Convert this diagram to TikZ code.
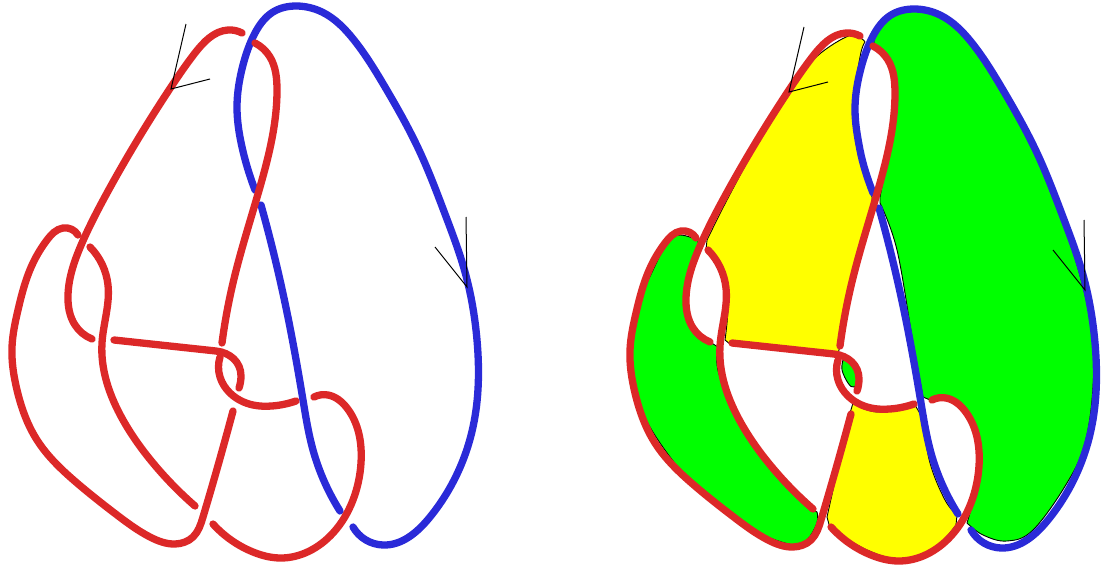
\documentclass[tikz,border=0pt]{standalone}
\usetikzlibrary{hobby}
\definecolor{kred}{HTML}{DC2828}
\definecolor{kblue}{HTML}{2A2AD8}
\definecolor{kgreen}{HTML}{00FF00}
\definecolor{kyellow}{HTML}{FFFF00}
\newcommand{\kw}{7.3pt}
\tikzset{
  redplain/.style={draw=kred,line width=\kw,line cap=round,line join=round},
  redstrand/.style={redplain,use Hobby shortcut},
  bluestrand/.style={use Hobby shortcut,draw=kblue,line width=\kw,line cap=round,line join=round},
  arrowline/.style={draw=black,line width=1pt,line join=miter},
  region/.style={draw=black,line width=0.9pt,line join=round},
  sm/.style={smooth,tension=0.62}
}
\newcommand{\knotdrawing}{%
  % blue strands
  \draw[bluestrand] (255,190) .. (242,147) .. (237,107) .. (243,65) .. (255,33) .. (273,12) .. (297,6) .. (322,12) .. (354,40) .. (385,87) .. (419,150) .. (445,214) .. (465,272) .. (477,340) .. (473,427) .. (430,517) .. (383,545) .. (353,527);
  \draw[bluestrand] (261,205) .. (280,280) .. (293,343) .. (303,400) .. (313,450) .. (340,511);
  % red strands
  \draw[redstrand] (242,33) .. (228,30) .. (195,53) .. (171,87) .. (107,193) .. (82,243) .. (68,295) .. (75,325) .. (92,339);
  \draw[redstrand] (78,235) .. (63,228) .. (47,240) .. (33,263) .. (18,310) .. (12,347) .. (17,390) .. (37,440) .. (77,483) .. (117,515) .. (150,537) .. (175,544) .. (193,537) .. (203,517) .. (233,411);
  \draw[redstrand] (90,247) .. (108,285) .. (102,343) .. (123,420) .. (153,463) .. (195,506);
  \draw[redplain] (114,340) -- (216,351) .. controls (230,352.5) and (241,362) .. (241,376) .. controls (241,381) and (240,385) .. (239,388);
  \draw[redstrand] (255,43) .. (270,57) .. (277,90) .. (260,187) .. (233,283) .. (222,343);
  \draw[redstrand] (220,357) .. (220,377) .. (230,393) .. (253,405) .. (272,406) .. (296,401);
  \draw[redstrand] (314,397) .. (328,395) .. (347,408) .. (361,463) .. (353,500) .. (333,533) .. (280,558) .. (253,552) .. (213,524);
  % arrows
  \draw[arrowline] (186,24) -- (171,89) -- (210,79);
  \draw[arrowline] (466,217) -- (467,287) -- (435,247);
}
\begin{document}
\begin{tikzpicture}[x=1pt,y=-1pt]
\useasboundingbox (0,0) rectangle (1101,565);
\fill[white] (0,0) rectangle (1101,565);
\knotdrawing
\begin{scope}[shift={(618,3)}]
  % yellow regions
  \path[region,fill=kyellow] plot[sm] coordinates {(247,39)(242,35)(228,34)(195,57)(171,92)(140,140)(110,195)(89,237)}
    -- plot[sm] coordinates {(88,247)(102,264)(110,297)(107,337)}
    -- (112,341) -- (220,351)
    -- plot[sm] coordinates {(222,343)(233,283)(248,225)(254,200)}
    -- plot[sm] coordinates {(254,194)(242,147)(235,107)(242,54)(247,39)} -- cycle;
  \path[region,fill=kyellow] (235,400) -- plot[sm] coordinates {(235,400)(259,409)(297,402)}
    -- plot[sm] coordinates {(304,414)(312,460)(327,497)(339,512)}
    -- (338,522) -- plot[sm] coordinates {(338,522)(315,547)(285,557)(249,547)(212,525)}
    -- (209,514) -- (232,410) -- cycle;
  % green regions
  \path[region,fill=kgreen] plot[sm] coordinates {(80,237)(62,232)(50,239)(35,267)(15,314)(12,354)(22,404)(52,454)(89,494)(135,527)(175,542)(189,537)(199,520)(199,509)}
    -- (195,507) -- plot[sm] coordinates {(195,507)(135,437)(102,374)(100,344)}
    -- (92,339) -- plot[sm] coordinates {(92,339)(74,320)(69,290)(79,254)(80,237)} -- cycle;
  \path[region,fill=kgreen] plot[sm] coordinates {(225,357)(234,360)(242,374)(236,384)(230,380)(224,367)(225,357)} -- cycle;
  \path[region,fill=kgreen] plot[sm] coordinates {(256,42)(258,32)(274,12)(297,7)(322,13)(353,41)(384,88)(418,151)(444,215)(464,280)(474,330)(475,384)(467,440)(449,480)(415,527)(389,538)(365,532)(349,520)}
    -- plot[sm] coordinates {(349,520)(355,497)(362,457)(355,424)(335,397)(312,397)}
    -- (305,394) -- plot[sm] coordinates {(305,394)(295,340)(279,247)(262,200)}
    -- plot[sm] coordinates {(262,194)(277,97)(270,54)(256,42)} -- cycle;
  \knotdrawing
\end{scope}
\end{tikzpicture}
\end{document}
